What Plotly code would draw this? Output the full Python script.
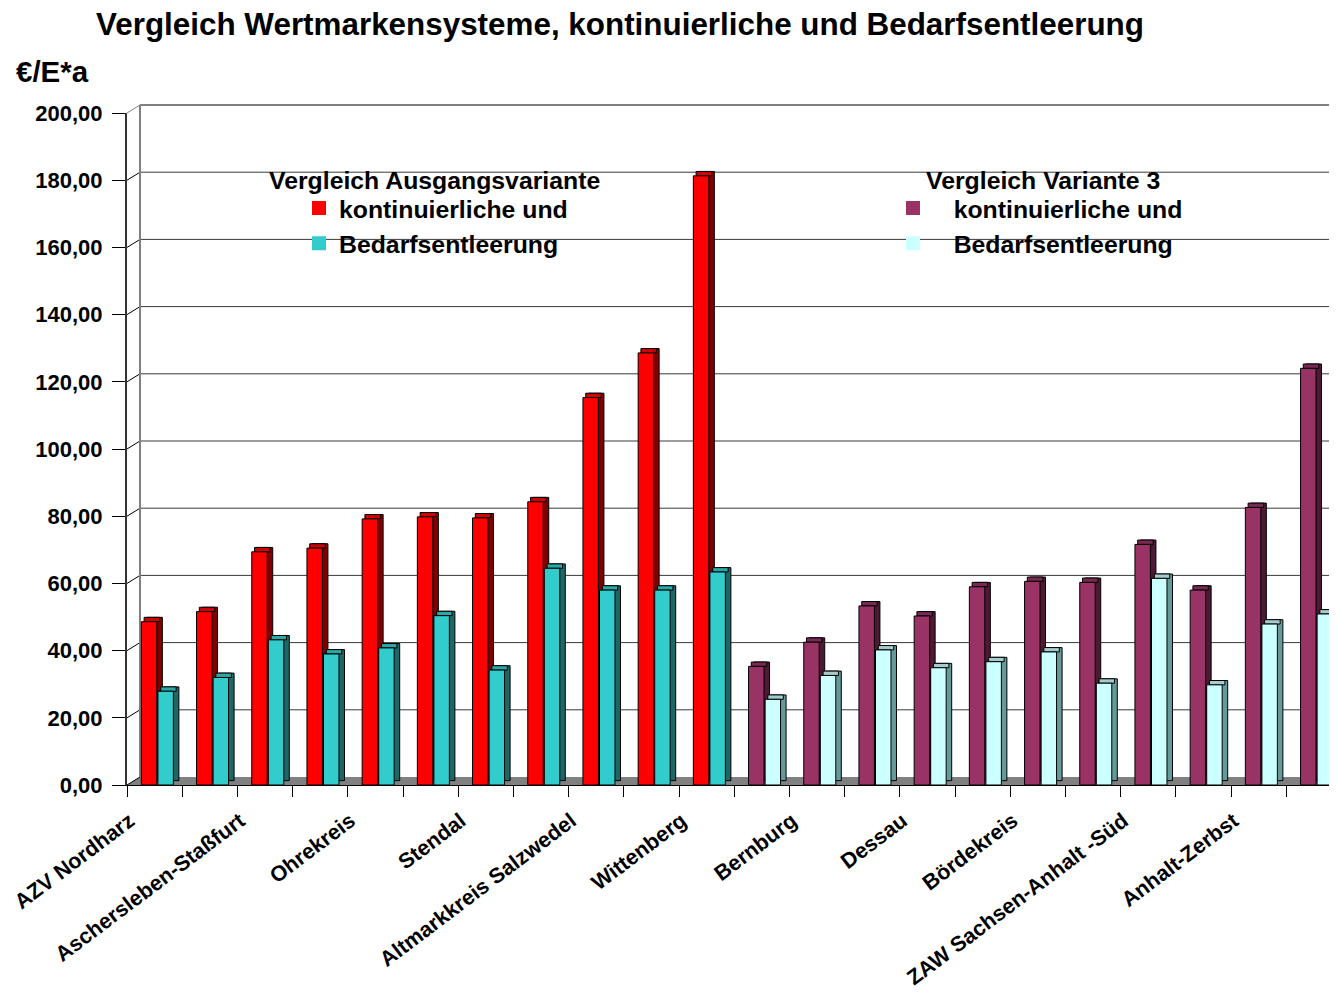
import plotly.graph_objects as go

# ---------------- data ----------------
label_text = ["AZV Nordharz", "Aschersleben-Staßfurt", "Ohrekreis", "Stendal",
              "Altmarkkreis Salzwedel", "Wittenberg", "Bernburg", "Dessau",
              "Bördekreis", "ZAW Sachsen-Anhalt -Süd", "Anhalt-Zerbst"]
label_pos = [1, 3, 5, 7, 9, 11, 13, 15, 17, 19, 21]

pos_aus = list(range(1, 12))
pos_v3 = list(range(12, 23))

kont_aus = [48.6, 51.6, 69.4, 70.5, 79.2, 79.8, 79.5, 84.3, 115.3, 128.6, 181.3]
bedarf_aus = [27.9, 32.0, 43.2, 39.0, 40.8, 50.4, 34.2, 64.5, 58.0, 58.0, 63.4]
kont_v3 = [35.3, 42.5, 53.3, 50.3, 59.0, 60.6, 60.3, 71.6, 58.0, 82.6, 124.0]
bedarf_v3 = [25.5, 32.6, 40.2, 34.9, 36.7, 39.6, 30.3, 61.5, 29.8, 47.9, 50.9]

y_ticks = [0, 20, 40, 60, 80, 100, 120, 140, 160, 180, 200]

# ---------------- style ----------------
FONT = "Liberation Sans, Arial, sans-serif"
W = 0.28       # bar width (category units)
DX = 0.10      # 3d depth, x (category units)
DY = 1.3       # 3d depth, y (value units)
OFF1, OFF2 = -0.24, 0.06

# page body has an 8px margin; figure coordinates = screen coordinates - 8
FW, FH = 1329, 984
PL, PW, PT, PH = 119, 1210, 105, 672

fig = go.Figure()


def bar3d(x, y, front, side, top, off):
    n = len(y)
    fig.add_trace(go.Bar(x=x, y=y, base=[DY] * n, offset=off + DX, width=W,
                         marker=dict(color=side, line=dict(color="black", width=1)),
                         showlegend=False, hoverinfo="skip"))
    fig.add_trace(go.Bar(x=x, y=[DY] * n, base=y, offset=off + DX / 2, width=W,
                         marker=dict(color=top, line=dict(color="black", width=1)),
                         showlegend=False, hoverinfo="skip"))
    fig.add_trace(go.Bar(x=x, y=y, offset=off, width=W,
                         marker=dict(color=front, line=dict(color="black", width=1)),
                         showlegend=False))


bar3d(pos_aus, kont_aus, "#FF0000", "#800000", "#D00000", OFF1)
bar3d(pos_aus, bedarf_aus, "#33CCCC", "#1F6666", "#2AA8A8", OFF2)
bar3d(pos_v3, kont_v3, "#993366", "#4D1A33", "#7A2952", OFF1)
bar3d(pos_v3, bedarf_v3, "#CCFFFF", "#669999", "#A3CCCC", OFF2)

# legend entries
NB = "\u00a0"
for name, col, lg in [("kontinuierliche und", "#FF0000", "legend"),
                      ("Bedarfsentleerung", "#33CCCC", "legend"),
                      (NB * 3 + "kontinuierliche und", "#993366", "legend2"),
                      (NB * 3 + "Bedarfsentleerung", "#CCFFFF", "legend2")]:
    fig.add_trace(go.Scatter(x=[None], y=[None], mode="markers", name=name,
                             marker=dict(symbol="square", size=14, color=col),
                             legend=lg))

# ---------------- decorations (3D back wall / floor) ----------------
bx = 13 / PW
by = 8 / PH
shapes = []
shapes.append(dict(type="path", xref="paper", yref="paper", layer="below",
                   path=f"M 0 0 L 1.01 0 L 1.01 {by} L {bx} {by} Z",
                   fillcolor="#808080", line=dict(width=0)))
for v in y_ticks:
    py = v / 200
    col = "#808080" if v == 200 else "#3a3a3a"
    wid = 2 if v == 200 else 1
    if v > 0:
        shapes.append(dict(type="line", xref="paper", yref="paper", layer="below",
                           x0=bx, x1=1.01, y0=py + by, y1=py + by,
                           line=dict(color=col, width=wid)))
    shapes.append(dict(type="line", xref="paper", yref="paper", layer="below",
                       x0=0, x1=bx, y0=py, y1=py + by,
                       line=dict(color="#808080" if v == 200 else "black", width=1)))
shapes.append(dict(type="line", xref="paper", yref="paper", layer="below",
                   x0=bx, x1=bx, y0=by, y1=1 + by, line=dict(color="#808080", width=2)))
fig.update_layout(shapes=shapes)


def sx(px):  # reference screen x -> paper
    return (px - 8 - PL) / PW


def sy(py):  # reference screen y -> paper
    return (PT + PH - (py - 8)) / PH


LEG_FONT = dict(size=24.8, weight="bold", family=FONT)

fig.update_layout(
    width=FW, height=FH,
    margin=dict(l=PL, r=0, t=PT, b=FH - PT - PH, autoexpand=False),
    paper_bgcolor="white", plot_bgcolor="rgba(0,0,0,0)",
    barmode="overlay",
    separators=",.",
    font=dict(family=FONT, color="black"),
    title=dict(text="Vergleich Wertmarkensysteme, kontinuierliche und Bedarfsentleerung",
               x=(620 - 8) / FW, xanchor="center", xref="container",
               y=1 - (24 - 8) / FH, yanchor="middle", yref="container",
               font=dict(size=31.4, weight="bold", family=FONT)),
    xaxis=dict(range=[0.5, 0.5 + PW / 55.2], tickvals=label_pos,
               ticktext=label_text, automargin=False,
               tickangle=-37, ticks="", showline=True, linecolor="black", linewidth=1,
               showgrid=False, zeroline=False, ticklabelstandoff=14,
               ticklabelshift=-25, ticklabeloverflow="allow",
               tickfont=dict(size=21.5, weight="bold", family=FONT),
               minor=dict(tickvals=[k + 0.5 for k in range(0, 23)], ticks="outside",
                          ticklen=11, tickcolor="black", tickwidth=1, showgrid=False)),
    yaxis=dict(range=[0, 200], tickvals=y_ticks, tickformat=".2f", ticks="outside",
               ticklen=13, tickcolor="black", showline=True, linecolor="#333333",
               linewidth=2, showgrid=False, zeroline=False, ticklabelstandoff=5,
               automargin=False, ticklabeloverflow="allow",
               tickfont=dict(size=22, weight="bold", family=FONT)),
    legend=dict(x=sx(299), y=sy(185.5), xanchor="left", yanchor="top",
                bgcolor="rgba(0,0,0,0)", font=LEG_FONT, tracegroupgap=0),
    legend2=dict(x=sx(893), y=sy(185.5), xanchor="left", yanchor="top",
                 bgcolor="rgba(0,0,0,0)", font=LEG_FONT, tracegroupgap=0),
    annotations=[
        dict(text="Vergleich Ausgangsvariante", x=sx(435), y=sy(180),
             xref="paper", yref="paper", xanchor="center", yanchor="middle", showarrow=False,
             font=LEG_FONT),
        dict(text="Vergleich Variante 3", x=sx(1043), y=sy(180),
             xref="paper", yref="paper", xanchor="center", yanchor="middle", showarrow=False,
             font=LEG_FONT),
        dict(text="€/E*a", x=sx(14), y=sy(71),
             xref="paper", yref="paper", xanchor="left", yanchor="middle", showarrow=False,
             font=dict(size=29.5, weight="bold", family=FONT)),
    ],
    showlegend=True,
)

fig.write_html("out.html")
